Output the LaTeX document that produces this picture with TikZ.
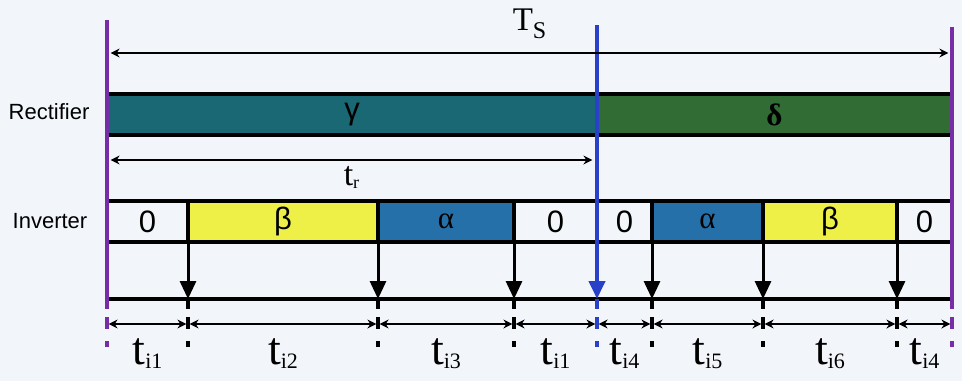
\documentclass[tikz,border=0pt]{standalone}
\usepackage{fontspec}
\setmainfont{Liberation Sans}
\newfontfamily\serifgr{Liberation Serif}
\usetikzlibrary{arrows.meta,positioning,calc}
\definecolor{paper}{RGB}{242,246,250}
\definecolor{recteal}{RGB}{27,104,117}
\definecolor{recgreen}{RGB}{48,108,52}
\definecolor{invblue}{RGB}{38,112,170}
\definecolor{invyellow}{RGB}{238,240,72}
\definecolor{edgepurple}{RGB}{118,45,165}
\definecolor{splitblue}{RGB}{40,65,200}
\newcommand{\tint}[1]{{\serifgr\fontsize{23}{24}\selectfont t\raisebox{-2pt}{\fontsize{11}{12}\selectfont #1}}}

\begin{document}
\begin{tikzpicture}[x=0.5pt,y=-0.5pt,
      cell/.style={draw=black,line width=1.8pt,minimum height=20.5pt,inner sep=0pt,outer sep=0pt,anchor=west},
      zero/.style={cell,font=\fontsize{15.5}{16}\selectfont},
      grk/.style={font=\fontsize{15.5}{16}\selectfont},
      ser/.style={font=\serifgr\fontsize{15.5}{16}\selectfont},
      drop/.style={line width=1.5pt,-{Triangle[width=8pt,length=9pt]}},
      dim/.style={line width=0.7pt,shorten <=0.8pt,shorten >=0.8pt,{Stealth[length=4.5pt,width=4.5pt]}-{Stealth[length=4.5pt,width=4.5pt]}},
      tick/.style={line width=2pt,dash pattern=on 5pt off 4pt on 6pt off 6pt on 3pt off 20pt},
      edge/.style={line width=2pt,edgepurple},
      tl/.style={midway,anchor=base,yshift=-20pt},
      side/.style={font=\fontsize{11}{12}\selectfont}]
  \fill[paper] (0,0) rectangle (962,381);
  \useasboundingbox (0,0) rectangle (962,381);
  % fixed points
  \coordinate (lt) at (107,20);
  \coordinate (rt) at (952,27);
  \coordinate (bt) at (597,25);
  \coordinate (bl) at (107,299);
  \coordinate (br) at (952,299);
  \coordinate (dl) at (0,324);
  \coordinate (tsl) at (109,53);
  \coordinate (tsr) at (950,53);
  \coordinate (trl) at (109,160);
  \coordinate (trr) at (594,160);
  % side labels
  \node[side] (rec) at (49,112) {Rectifier};
  \node[side] (inv) at (50,221) {Inverter};
  % rectifier bar
  \node[cell,grk,fill=recteal,minimum width=245pt] (gam) at (107,114.5) {γ};
  \node[cell,ser,fill=recgreen,minimum width=177.5pt,right=0pt of gam] (del) {\bfseries δ};
  % inverter bar
  \node[zero,minimum width=40.5pt] (z1) at (107,221.5) {0};
  \node[cell,grk,fill=invyellow,minimum width=95pt,right=0pt of z1] (b1) {β};
  \node[cell,ser,fill=invblue,minimum width=68pt,right=0pt of b1] (a1) {α};
  \node[zero,minimum width=41.5pt,right=0pt of a1] (z2) {0};
  \node[zero,minimum width=27.5pt,right=0pt of z2] (z3) {0};
  \node[cell,ser,fill=invblue,minimum width=55.5pt,right=0pt of z3] (a2) {α};
  \node[cell,grk,fill=invyellow,minimum width=67pt,right=0pt of a2] (b2) {β};
  \node[zero,minimum width=27.5pt,right=0pt of b2] (z4) {0};
  % time axis
  \draw[line width=1.8pt] (bl) -- (br);
  \draw[drop] (b1.south west) -- (b1.south west |- bl);
  \draw[drop] (a1.south west) -- (a1.south west |- bl);
  \draw[drop] (z2.south west) -- (z2.south west |- bl);
  \draw[drop] (a2.south west) -- (a2.south west |- bl);
  \draw[drop] (b2.south west) -- (b2.south west |- bl);
  \draw[drop] (z4.south west) -- (z4.south west |- bl);
  \draw[tick] (b1.west |- bl) -- ++(0,50);
  \draw[tick] (a1.west |- bl) -- ++(0,50);
  \draw[tick] (z2.west |- bl) -- ++(0,50);
  \draw[tick] (a2.west |- bl) -- ++(0,50);
  \draw[tick] (b2.west |- bl) -- ++(0,50);
  \draw[tick] (z4.west |- bl) -- ++(0,50);
  % period edges
  \draw[edge] (lt) -- (bl);
  \draw[edge] (rt) -- (br);
  \draw[edge,tick] (bl) -- ++(0,50);
  \draw[edge,tick] (br) -- ++(0,50);
  % split line
  \draw[line width=2pt,splitblue,-{Triangle[width=8pt,length=9pt]}] (bt) -- (z3.west |- bl);
  \draw[splitblue,tick] (z3.west |- bl) -- ++(0,50);
  % spans
  \draw[dim] (tsl) -- node[midway,anchor=base,yshift=11.5pt]{\serifgr\fontsize{16.5}{18}\selectfont T\raisebox{-4pt}{\fontsize{12}{13}\selectfont S}} (tsr);
  \draw[dim] (trl) -- node[midway,anchor=base,yshift=-12.5pt]{\serifgr\fontsize{17}{18}\selectfont t\raisebox{-1.5pt}{\fontsize{9}{10}\selectfont r}} (trr);
  \draw[dim] (z1.west |- dl) -- node[tl]{\tint{i1}} (b1.west |- dl);
  \draw[dim] (b1.west |- dl) -- node[tl]{\tint{i2}} (a1.west |- dl);
  \draw[dim] (a1.west |- dl) -- node[tl]{\tint{i3}} (z2.west |- dl);
  \draw[dim] (z2.west |- dl) -- node[tl]{\tint{i1}} (z3.west |- dl);
  \draw[dim] (z3.west |- dl) -- node[tl]{\tint{i4}} (a2.west |- dl);
  \draw[dim] (a2.west |- dl) -- node[tl]{\tint{i5}} (b2.west |- dl);
  \draw[dim] (b2.west |- dl) -- node[tl]{\tint{i6}} (z4.west |- dl);
  \draw[dim] (z4.west |- dl) -- node[tl]{\tint{i4}} (z4.east |- dl);
\end{tikzpicture}
\end{document}
